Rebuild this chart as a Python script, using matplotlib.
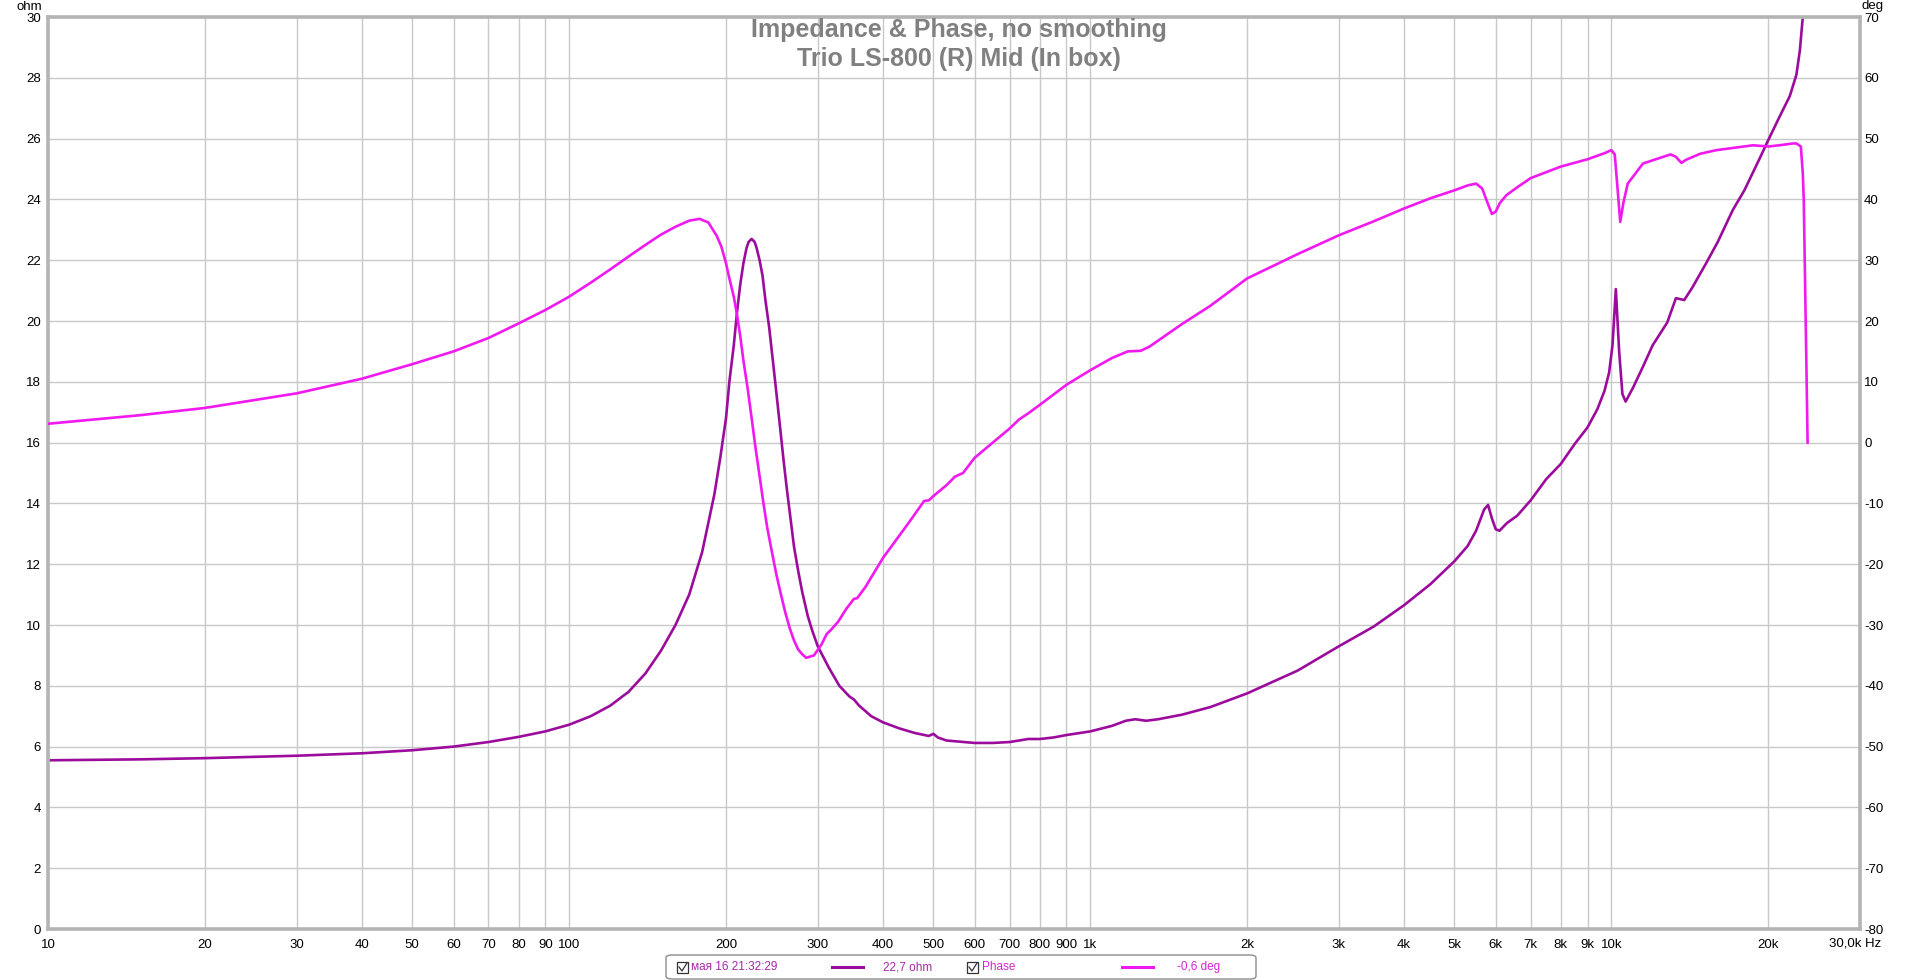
import matplotlib
matplotlib.use("Agg")
import matplotlib.pyplot as plt
from matplotlib.patches import FancyBboxPatch, Rectangle
from matplotlib.lines import Line2D

plt.rcParams['font.family'] = ['Liberation Sans', 'DejaVu Sans']
plt.rcParams['axes.unicode_minus'] = False

# ---------------- data ----------------
imp_freq = [10, 15, 20, 30, 40, 50, 60, 70, 80, 90, 100, 110, 120, 130, 140, 150, 160, 170,
            180, 190, 195, 200, 203, 207, 210, 213, 216, 219, 221, 224, 227, 229, 232, 235,
            238, 242, 246, 250, 254, 258, 262, 266, 270, 275, 280, 287, 293, 300,
            315, 330, 345, 352, 360, 380, 400, 430, 460, 490, 500, 510, 530, 600, 650, 700,
            730, 760, 800, 850, 900, 1000, 1100, 1170, 1220, 1280, 1350, 1500, 1700, 2000,
            2500, 3000, 3500, 4000, 4500, 5000, 5300, 5500, 5700, 5800, 5900, 6000, 6100,
            6300, 6600, 7000, 7500, 8000, 8500, 9000, 9400, 9700, 9900, 10050, 10200, 10350,
            10500, 10650, 11000, 11500, 12000, 12800, 13300, 13800, 14300, 15200, 16000,
            17100, 18000, 19260, 20000, 21000, 22000, 22650, 23000, 23300, 23500, 23700]
imp_ohm = [5.55, 5.58, 5.62, 5.70, 5.78, 5.88, 6.00, 6.15, 6.32, 6.50, 6.72, 7.00, 7.35, 7.80,
           8.40, 9.15, 10.0, 11.0, 12.4, 14.3, 15.5, 16.8, 18.0, 19.2, 20.3, 21.2, 21.9,
           22.4, 22.6, 22.7, 22.6, 22.4, 22.0, 21.5, 20.7, 19.8, 18.7, 17.6, 16.5, 15.4,
           14.4, 13.5, 12.6, 11.8, 11.1, 10.3, 9.8, 9.3, 8.6, 8.0, 7.65, 7.55, 7.35, 7.0,
           6.8, 6.6, 6.45, 6.35, 6.42, 6.3, 6.2, 6.12, 6.12, 6.15, 6.2, 6.25, 6.25, 6.3,
           6.38, 6.5, 6.68, 6.85, 6.9, 6.85, 6.9, 7.05, 7.3, 7.75, 8.5, 9.3, 9.95, 10.65,
           11.35, 12.1, 12.6, 13.1, 13.8, 13.95, 13.5, 13.15, 13.1, 13.35, 13.6, 14.1, 14.8,
           15.3, 15.95, 16.5, 17.1, 17.7, 18.3, 19.2, 21.05, 19.0, 17.6, 17.35, 17.8, 18.5,
           19.2, 19.95, 20.75, 20.69, 21.1, 21.9, 22.6, 23.65, 24.3, 25.35, 25.95, 26.7,
           27.4, 28.1, 28.9, 30.0, 31.5, 34.0]

ph_freq = [10, 15, 20, 30, 40, 50, 60, 70, 80, 90, 100, 110, 120, 130, 140, 150, 160, 170, 178,
           185, 192, 196, 200, 203, 207, 210, 213, 216, 220, 224, 228, 232, 236, 240, 245, 250,
           255, 260, 265, 270, 275, 280, 285, 295, 305, 312, 318,
           328, 340, 352, 357, 370, 400, 450, 480, 490, 500, 530, 550, 570, 600, 650, 700, 730,
           760, 800, 900, 1000, 1100, 1180, 1250, 1300, 1500, 1700, 2000, 2500, 3000, 3500,
           4000, 4500, 5000, 5300, 5500, 5650, 5800, 5900, 6000, 6110, 6290, 6600, 7000, 8000,
           9000, 9700, 10000, 10150, 10250, 10400, 10550, 10750, 11500, 12570, 13000, 13300,
           13630, 13900, 14800, 15900, 18700, 20000, 21000, 22300, 22650, 23100, 23300, 23400,
           23600, 23800]
ph_deg = [3.1, 4.5, 5.7, 8.1, 10.5, 12.9, 15.0, 17.2, 19.6, 21.8, 24.0, 26.3, 28.5, 30.6, 32.5,
          34.2, 35.5, 36.5, 36.8, 36.2, 34.0, 32.2, 29.5, 27.0, 24.0, 21.0, 17.5, 13.5, 9.0,
          4.0, -1.0, -5.5, -10.0, -14.0, -18.0, -21.8, -25.0, -28.0, -30.5, -32.5, -34.0,
          -34.8, -35.4, -35.0, -33.2, -31.5, -30.8, -29.5, -27.4, -25.7, -25.6, -23.8,
          -19.0, -13.0, -9.6, -9.5, -8.8, -7.0, -5.6, -5.0, -2.5, 0.0, 2.3, 3.8, 4.8, 6.2, 9.5,
          11.9, 13.9, 15.0, 15.1, 15.8, 19.5, 22.5, 27.0, 31.0, 34.1, 36.4, 38.5, 40.2, 41.5,
          42.3, 42.6, 41.8, 39.2, 37.6, 38.0, 39.4, 40.7, 42.0, 43.5, 45.4, 46.6, 47.6, 48.1,
          47.4, 43.0, 36.3, 39.5, 42.6, 45.9, 47.0, 47.4, 47.0, 46.0, 46.5, 47.5, 48.1, 48.9,
          48.7, 48.9, 49.2, 49.2, 48.7, 44.3, 39.9, 20.0, 0.0]

x_ticks = [10, 20, 30, 40, 50, 60, 70, 80, 90, 100, 200, 300, 400, 500, 600, 700, 800, 900,
           1000, 2000, 3000, 4000, 5000, 6000, 7000, 8000, 9000, 10000, 20000]
x_labels = ['10', '20', '30', '40', '50', '60', '70', '80', '90', '100', '200', '300', '400',
            '500', '600', '700', '800', '900', '1k', '2k', '3k', '4k', '5k', '6k', '7k', '8k',
            '9k', '10k', '20k']
ohm_ticks = list(range(0, 31, 2))
deg_ticks = list(range(-80, 71, 10))

title_lines = ["Impedance & Phase, no smoothing", "Trio LS-800 (R) Mid (In box)"]
legend_time = "мая 16 21:32:29"
legend_imp = "22,7 ohm"
legend_ph_name = "Phase"
legend_ph = "-0,6 deg"

IMP_COL = '#9c0c9c'
PH_COL = '#f01af0'
GRID_COL = '#c8c8c8'
FRAME_COL = '#b4b4b4'

W, H = 1920, 980
fig = plt.figure(figsize=(W / 100, H / 100), dpi=100)
fig.patch.set_facecolor('white')

L, R, T, B = 48, 1860, 17, 929
ax = fig.add_axes([L / W, 1 - B / H, (R - L) / W, (B - T) / H])
ax.set_xscale('log')
ax.set_xlim(10, 30000)
ax.set_ylim(0, 30)
ax.set_xticks(x_ticks)
ax.set_xticklabels(x_labels)
ax.xaxis.set_minor_locator(matplotlib.ticker.NullLocator())
ax.set_yticks(ohm_ticks)
ax.grid(True, which='major', color=GRID_COL, linewidth=1.0)
ax.tick_params(axis='both', length=0, labelsize=9.5, colors='black')
ax.tick_params(axis='x', pad=7)
ax.tick_params(axis='y', pad=5)
for s in ax.spines.values():
    s.set_visible(False)

ax2 = ax.twinx()
ax2.set_ylim(-80, 70)
ax2.set_yticks(deg_ticks)
ax2.tick_params(axis='y', length=0, labelsize=9.5, pad=3)
for s in ax2.spines.values():
    s.set_color(FRAME_COL)
    s.set_linewidth(2.6)

ax.plot(imp_freq, imp_ohm, color=IMP_COL, lw=1.9, solid_joinstyle='round', zorder=3)
ax2.plot(ph_freq, ph_deg, color=PH_COL, lw=1.9, solid_joinstyle='round', zorder=3)

# axis unit labels
fig.text(42 / W, 1 - 7 / H, 'ohm', ha='right', va='center', fontsize=9.5)
fig.text(1862 / W, 1 - 6 / H, 'deg', ha='left', va='center', fontsize=9.5)
fig.text(1881 / W, 1 - 943 / H, '30,0k Hz', ha='right', va='center', fontsize=9.5)

# title
fig.text(959 / W, 1 - 30 / H, title_lines[0], ha='center', va='center', fontsize=18,
         fontweight='bold', color='#808080')
fig.text(959 / W, 1 - 59 / H, title_lines[1], ha='center', va='center', fontsize=18,
         fontweight='bold', color='#808080')

# legend box (figure pixel coordinates)
def px(x, y):
    return x / W, 1 - y / H

box = FancyBboxPatch(px(666, 979), (1256 - 666) / W, (979 - 955) / H,
                     boxstyle='round,pad=0,rounding_size=0.003', transform=fig.transFigure,
                     facecolor='white', edgecolor='#8c8c8c', linewidth=1.0)
fig.patches.append(box)
for cx in (677, 967):
    fig.patches.append(Rectangle(px(cx, 973), 11 / W, 11 / H, transform=fig.transFigure,
                                 facecolor='white', edgecolor='#333333', linewidth=0.9))
    fig.lines.append(Line2D([(cx + 2) / W, (cx + 5) / W, (cx + 10) / W],
                            [1 - 967 / H, 1 - 971 / H, 1 - 963 / H],
                            transform=fig.transFigure, color='#333333', lw=0.9))
ymid = 1 - 967 / H
fig.text(691 / W, ymid, legend_time, ha='left', va='center', fontsize=8.5, color='#a828a8')
fig.lines.append(Line2D([832 / W, 863 / W], [ymid, ymid], transform=fig.transFigure,
                        color=IMP_COL, lw=2.2))
fig.text(883 / W, ymid, legend_imp, ha='left', va='center', fontsize=8.5, color='#a828a8')
fig.text(982 / W, ymid, legend_ph_name, ha='left', va='center', fontsize=8.5, color='#d424d4')
fig.lines.append(Line2D([1122 / W, 1153 / W], [ymid, ymid], transform=fig.transFigure,
                        color=PH_COL, lw=2.2))
fig.text(1177 / W, ymid, legend_ph, ha='left', va='center', fontsize=8.5, color='#d424d4')

fig.savefig('out.png', dpi=100, facecolor='white')
